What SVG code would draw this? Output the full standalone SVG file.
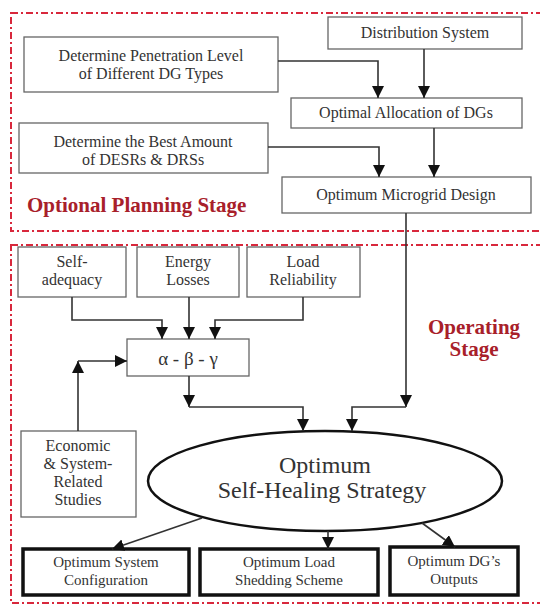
<svg xmlns="http://www.w3.org/2000/svg" width="540" height="607" viewBox="0 0 540 607">
<defs>
<style>
.stage{fill:none;stroke:#d8283c;stroke-width:2;stroke-dasharray:7 3 2 3}
.box rect{fill:#fff;stroke:#666;stroke-width:1.3}
.obox rect{fill:#fff;stroke:#111;stroke-width:3.5}
text{font-family:"Liberation Serif","Times New Roman",serif;fill:#333;text-anchor:middle}
.t{font-size:16px}
.s{font-size:15px}
.lbl{font-size:21px;font-weight:bold;fill:#a8202a}
.con path{fill:none;stroke:#333;stroke-width:1.6;marker-end:url(#ah)}
</style>
<marker id="ah" markerUnits="userSpaceOnUse" markerWidth="12" markerHeight="14" viewBox="0 0 12 14" refX="12" refY="6" orient="auto">
<path d="M0,0 L12,6 L0,12 Z" fill="#111"/>
</marker>
</defs>
<rect x="0" y="0" width="540" height="607" fill="#fff"/>
<rect class="stage" x="11" y="13" width="545" height="218"/>
<rect class="stage" x="11" y="245" width="545" height="358"/>
<text class="lbl" x="27" y="212" style="text-anchor:start">Optional Planning Stage</text>
<text class="lbl" x="474" y="334">Operating</text>
<text class="lbl" x="474" y="356">Stage</text>

<g id="n-penetration" class="box"><rect x="24" y="37" width="254" height="55"/><text class="t" x="151" y="61">Determine Penetration Level</text><text class="t" x="151" y="79">of Different DG Types</text></g>
<g id="n-distribution" class="box"><rect x="328" y="17" width="194" height="32"/><text class="t" x="425" y="38">Distribution System</text></g>
<g id="n-allocation" class="box"><rect x="291" y="98" width="231" height="30"/><text class="t" x="406" y="118">Optimal Allocation of DGs</text></g>
<g id="n-desr" class="box"><rect x="19" y="123" width="249" height="50"/><text class="t" x="143" y="147">Determine the Best Amount</text><text class="t" x="143" y="165">of DESRs &amp; DRSs</text></g>
<g id="n-microgrid" class="box"><rect x="282" y="177" width="249" height="36"/><text class="t" x="406" y="200">Optimum Microgrid Design</text></g>

<g id="n-selfadequacy" class="box"><rect x="18" y="247" width="108" height="50"/><text class="t" x="72" y="267">Self-</text><text class="t" x="72" y="285">adequacy</text></g>
<g id="n-energy" class="box"><rect x="137" y="247" width="102" height="50"/><text class="t" x="188" y="267">Energy</text><text class="t" x="188" y="285">Losses</text></g>
<g id="n-load" class="box"><rect x="247" y="247" width="113" height="50"/><text class="t" x="303" y="267">Load</text><text class="t" x="303" y="285">Reliability</text></g>
<g id="n-abg" class="box"><rect x="127" y="339" width="122" height="37"/><text x="188" y="365" style="font-size:19px">α - β - γ</text></g>
<g id="n-economic" class="box"><rect x="21" y="431" width="115" height="86"/><text class="t" x="78" y="451">Economic</text><text class="t" x="78" y="469">&amp; System-</text><text class="t" x="78" y="487">Related</text><text class="t" x="78" y="505">Studies</text></g>
<g id="n-strategy"><ellipse cx="325" cy="481" rx="177" ry="50" fill="#fff" stroke="#111" stroke-width="2.5"/><text x="325" y="473" style="font-size:24px">Optimum</text><text x="322" y="498" style="font-size:24px">Self-Healing Strategy</text></g>
<g id="n-config" class="obox"><rect x="23" y="549" width="166" height="46"/><text class="s" x="106" y="567">Optimum System</text><text class="s" x="106" y="585">Configuration</text></g>
<g id="n-shedding" class="obox"><rect x="200" y="549" width="178" height="46"/><text class="s" x="289" y="567">Optimum Load</text><text class="s" x="289" y="585">Shedding Scheme</text></g>
<g id="n-dg" class="obox"><rect x="390" y="547" width="128" height="48"/><text class="s" x="454" y="566">Optimum DG’s</text><text class="s" x="454" y="584">Outputs</text></g>

<g id="connectors" class="con">
<path d="M278,61 H378 V98"/>
<path d="M424,49 V98"/>
<path d="M268,147 H379 V177"/>
<path d="M434,128 V177"/>
<path d="M406,213 V407"/>
<path d="M406,407 H352 V431"/>
<path d="M72,297 V320 H162 V339"/>
<path d="M189,297 V339"/>
<path d="M303,297 V320 H215 V339"/>
<path d="M189,376 V407"/>
<path d="M189,407 H303 V431"/>
<path d="M78,431 V361"/>
<path d="M78,361 H127"/>
<path d="M202,518 L112,549"/>
<path d="M328,531 V549"/>
<path d="M422,523 L455,547"/>
</g>
</svg>
